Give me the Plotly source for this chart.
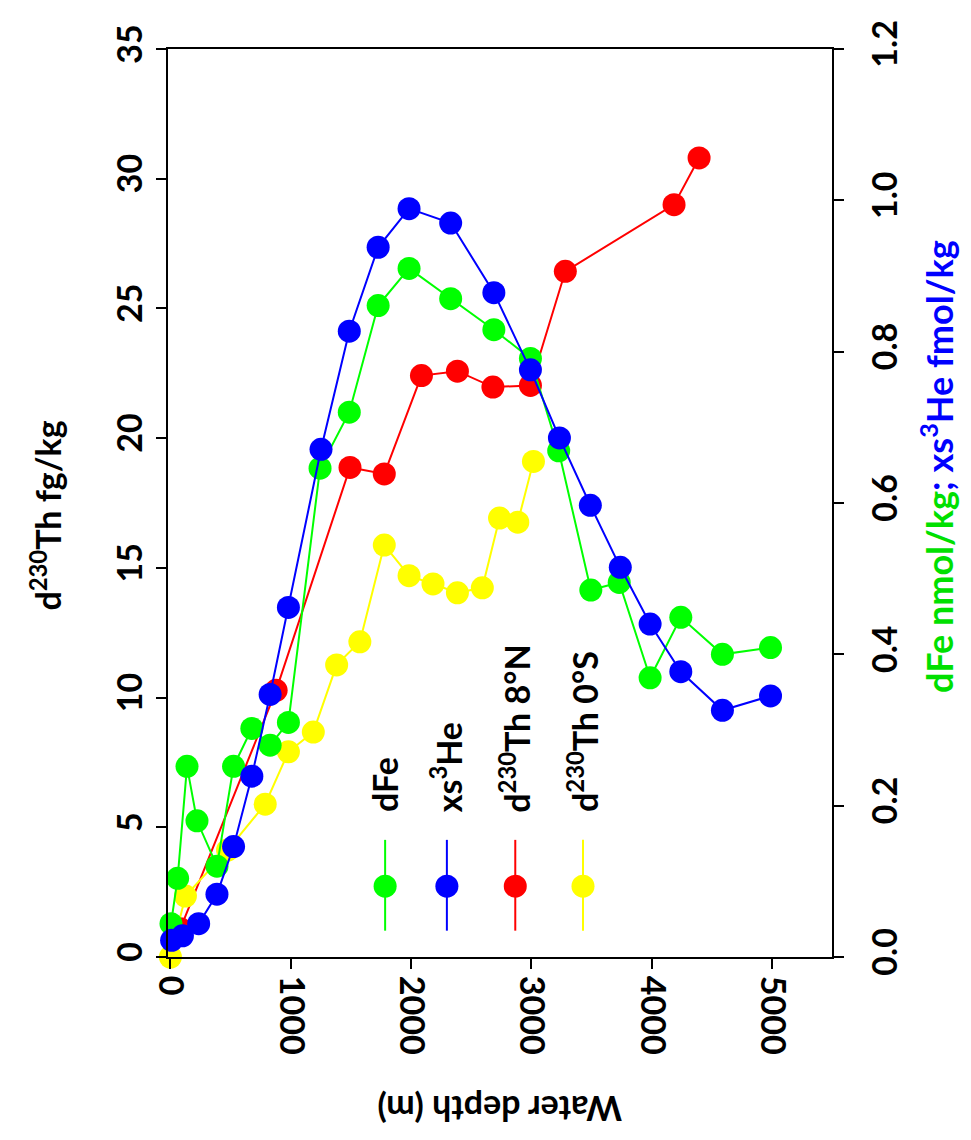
import plotly.graph_objects as go

# ---- data ----
fe_depth = [5, 60, 138, 221, 387, 525, 677, 829, 981, 1244, 1487, 1727, 1984, 2330, 2689, 2993, 3228, 3495, 3731, 3988, 4243, 4589, 4989]
fe_val = [0.044, 0.104, 0.252, 0.180, 0.120, 0.252, 0.302, 0.280, 0.310, 0.646, 0.720, 0.861, 0.910, 0.870, 0.829, 0.791, 0.669, 0.485, 0.495, 0.369, 0.449, 0.400, 0.409]

he_depth = [10, 100, 235, 387, 525, 677, 829, 981, 1252, 1487, 1727, 1984, 2330, 2689, 2993, 3234, 3491, 3740, 3988, 4243, 4589, 4989]
he_val = [0.022, 0.028, 0.044, 0.083, 0.146, 0.239, 0.347, 0.462, 0.671, 0.827, 0.938, 0.989, 0.970, 0.878, 0.776, 0.686, 0.597, 0.515, 0.440, 0.377, 0.326, 0.345]

th8n_depth = [83, 879, 1493, 1778, 2087, 2386, 2681, 2993, 3283, 4187, 4395]
th8n_val = [1.09, 10.28, 18.87, 18.62, 22.41, 22.58, 21.97, 22.03, 26.43, 29.0, 30.8]

th0s_depth = [0, 125, 475, 788, 981, 1188, 1382, 1575, 1778, 1984, 2183, 2386, 2593, 2736, 2888, 3018]
th0s_val = [0.0, 2.35, 4.12, 5.89, 7.91, 8.67, 11.26, 12.15, 15.88, 14.70, 14.38, 14.04, 14.23, 16.92, 16.76, 19.10]

x_ticks = [0, 1000, 2000, 3000, 4000, 5000]
yl_ticks = [0, 5, 10, 15, 20, 25, 30, 35]
yr_ticks = [0.0, 0.2, 0.4, 0.6, 0.8, 1.0, 1.2]

legend_labels = ["dFe", "xs<sup>3</sup>He", "d<sup>230</sup>Th 8°N", "d<sup>230</sup>Th 0°S"]

GREEN = "#00ff00"
BLUE = "#0000ff"
RED = "#ff0000"
YELLOW = "#ffff00"
legend_colors = [GREEN, BLUE, RED, YELLOW]

FONT = "Lato, 'Open Sans', sans-serif"
FS = 34
MS = 23

fig = go.Figure()

def add(x, y, color, axis):
    fig.add_trace(go.Scatter(
        x=x, y=y, yaxis=axis, mode="lines+markers",
        line=dict(color=color, width=2),
        marker=dict(color=color, size=MS),
        cliponaxis=False, showlegend=False))

add(fe_depth, fe_val, GREEN, "y2")
add(he_depth, he_val, BLUE, "y2")
add(th8n_depth, th8n_val, RED, "y")
add(th0s_depth, th0s_val, YELLOW, "y")

axis_common = dict(
    showgrid=False, zeroline=False, showline=True, linecolor="black", linewidth=2,
    ticks="outside", ticklen=10, tickwidth=2, tickcolor="black",
    tickfont=dict(family=FONT, size=FS, color="black", weight="bold"),
)

fig.update_layout(
    width=963, height=1132,
    margin=dict(l=160, r=139, t=26, b=183),
    paper_bgcolor="white", plot_bgcolor="white",
    font=dict(family=FONT, size=FS, color="black", weight="bold"),
    xaxis=dict(range=[-20, 5500], tickvals=x_ticks, tickangle=90, mirror=True, **axis_common),
    yaxis=dict(range=[0, 35], tickvals=yl_ticks, tickangle=-90, ticklabelstandoff=0, **axis_common),
    yaxis2=dict(range=[0, 1.2], tickvals=yr_ticks, tickformat=".1f", tickangle=-90,
                overlaying="y", side="right", ticklabelstandoff=12, **axis_common),
)

# legend drawn as shapes + rotated labels
leg_x = [0.327, 0.420, 0.523, 0.625]
for lx, col, lab in zip(leg_x, legend_colors, legend_labels):
    fig.add_shape(type="line", xref="paper", yref="paper", x0=lx, x1=lx, y0=0.029, y1=0.129,
                  line=dict(color=col, width=2))
    fig.add_shape(type="circle", xref="paper", yref="paper", xsizemode="pixel", ysizemode="pixel",
                  xanchor=lx, yanchor=0.078, x0=-MS/2, x1=MS/2, y0=-MS/2, y1=MS/2,
                  fillcolor=col, line=dict(color=col, width=0))
    fig.add_annotation(text=lab, xref="paper", yref="paper", x=lx, y=0.157,
                       xanchor="center", yanchor="bottom", textangle=-90, showarrow=False,
                       font=dict(family=FONT, size=FS, color="black", weight="bold"))

# axis titles
fig.add_annotation(text="Water depth (m)", xref="paper", yref="paper", x=0.5, y=-0.168,
                   xanchor="center", yanchor="middle", textangle=180, showarrow=False,
                   font=dict(family=FONT, size=FS, color="black", weight="bold"))
fig.add_annotation(text="d<sup>230</sup>Th fg/kg", xref="paper", yref="paper", x=-0.184, y=0.486,
                   xanchor="center", yanchor="middle", textangle=-90, showarrow=False,
                   font=dict(family=FONT, size=FS, color="black", weight="bold"))
fig.add_annotation(text="<span style='color:#00e000'>dFe nmol/kg</span><span style='color:#0000ff'>; xs<sup>3</sup>He fmol/kg</span>",
                   xref="paper", yref="paper", x=1.157, y=0.54,
                   xanchor="center", yanchor="middle", textangle=-90, showarrow=False,
                   font=dict(family=FONT, size=36, weight="bold"))

fig.write_html("out.html")
